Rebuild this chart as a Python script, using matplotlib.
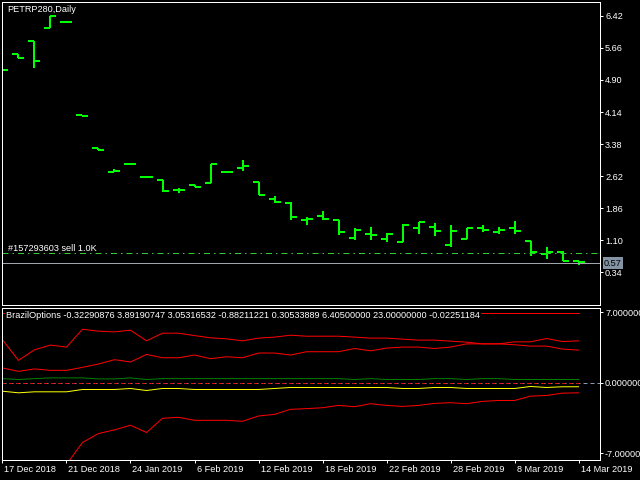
import matplotlib
matplotlib.use('Agg')
import matplotlib.pyplot as plt
import matplotlib.transforms as mtransforms
import numpy as np

# ---------------- data ----------------
symbol_title = 'PETRP280,Daily'
date_labels = ['17 Dec 2018', '21 Dec 2018', '24 Jan 2019', '6 Feb 2019', '12 Feb 2019',
               '18 Feb 2019', '22 Feb 2019', '28 Feb 2019', '8 Mar 2019', '14 Mar 2019']
date_label_bars = [0, 4, 8, 12, 16, 20, 24, 28, 32, 36]

opens  = [5.13, 5.51, 5.82, 6.14, 6.27, 4.08, 3.28, 2.72, 2.90, 2.61, 2.52, 2.30, 2.42, 2.45,
          2.71, 2.82, 2.47, 2.09, 1.98, 1.57, 1.68, 1.57, 1.15, 1.24, 1.13, 1.06, 1.39, 1.42,
          1.00, 1.14, 1.40, 1.30, 1.40, 1.09, 0.77, 0.82, 0.62]
highs  = [5.13, 5.51, 5.82, 6.41, 6.27, 4.08, 3.28, 2.79, 2.90, 2.61, 2.52, 2.34, 2.42, 2.91,
          2.71, 3.01, 2.48, 2.15, 2.00, 1.65, 1.80, 1.58, 1.39, 1.41, 1.27, 1.49, 1.53, 1.50,
          1.46, 1.39, 1.46, 1.41, 1.56, 1.09, 0.95, 0.84, 0.62]
lows   = [5.13, 5.43, 5.18, 6.14, 6.27, 4.05, 3.24, 2.72, 2.90, 2.61, 2.24, 2.23, 2.37, 2.45,
          2.71, 2.75, 2.17, 1.99, 1.59, 1.47, 1.57, 1.23, 1.11, 1.11, 1.07, 1.06, 1.24, 1.21,
          0.93, 1.14, 1.30, 1.24, 1.24, 0.74, 0.66, 0.60, 0.51]
closes = [5.13, 5.43, 5.36, 6.41, 6.27, 4.05, 3.24, 2.75, 2.90, 2.61, 2.27, 2.30, 2.37, 2.91,
          2.71, 2.87, 2.18, 2.01, 1.65, 1.61, 1.61, 1.30, 1.34, 1.23, 1.26, 1.46, 1.53, 1.33,
          1.33, 1.38, 1.35, 1.35, 1.33, 0.82, 0.83, 0.62, 0.58]

price_ticks = [6.42, 5.66, 4.90, 4.14, 3.38, 2.62, 1.86, 1.10, 0.34]
order_price = 0.79
order_text = '#157293603 sell 1.0K'
bid_price = 0.56
bid_label = '0.57'

# indicator buffers
line_a = [4.27, 2.23, 3.28, 3.75, 3.55, 5.32, 5.13, 5.06, 5.23, 4.17, 4.93, 4.93, 4.69, 4.47,
          4.37, 4.17, 4.44, 4.54, 4.73, 4.63, 4.63, 4.63, 4.54, 4.44, 4.44, 4.34, 4.24, 4.24,
          4.14, 4.04, 3.87, 3.87, 3.78, 3.65, 3.65, 3.35, 3.25]
line_b = [1.48, 1.14, 1.38, 1.24, 1.24, 1.54, 1.87, 2.30, 2.07, 2.82, 2.49, 2.49, 2.76, 2.40,
          2.59, 2.49, 2.96, 2.96, 2.76, 3.09, 3.09, 3.09, 3.41, 3.18, 3.45, 3.55, 3.55, 3.41,
          3.55, 3.87, 3.87, 3.87, 4.07, 4.07, 4.40, 4.10, 4.17]
line_c = [-10.5, -10.0, -9.4, -8.8, -8.1, -5.92, -5.03, -4.67, -4.21, -4.93, -3.52, -3.42,
          -3.72, -3.72, -3.72, -3.82, -3.29, -3.13, -2.63, -2.56, -2.47, -2.24, -2.37, -2.07,
          -2.24, -2.34, -2.24, -2.04, -1.97, -2.07, -1.84, -1.75, -1.75, -1.32, -1.25, -1.02, -0.99]
line_green = [0.42, 0.33, 0.42, 0.49, 0.49, 0.49, 0.39, 0.39, 0.49, 0.33, 0.42, 0.42, 0.42,
              0.42, 0.42, 0.42, 0.42, 0.42, 0.42, 0.42, 0.42, 0.42, 0.33, 0.42, 0.33, 0.33,
              0.33, 0.42, 0.42, 0.33, 0.42, 0.42, 0.33, 0.33, 0.33, 0.33, 0.33]
line_yellow = [-0.83, -0.99, -0.89, -0.89, -0.89, -0.66, -0.66, -0.66, -0.56, -0.76, -0.56,
               -0.56, -0.66, -0.66, -0.66, -0.66, -0.66, -0.56, -0.46, -0.46, -0.46, -0.46,
               -0.46, -0.46, -0.46, -0.56, -0.56, -0.46, -0.46, -0.56, -0.56, -0.56, -0.56,
               -0.36, -0.46, -0.39, -0.39]
line_top = [6.9] * 37
line_zero = [0.0] * 37
ind_ticks = [7.0, 0.0, -7.0]
ind_name = 'BrazilOptions'
ind_values = ['-0.32290876', '3.89190747', '3.05316532', '-0.88211221', '0.30533889',
              '6.40500000', '23.00000000', '-0.02251184']

# ---------------- drawing ----------------
W, H = 640, 480
PT = 72 / 100.0  # points per pixel
FONT = 'Liberation Sans'
FS = 6.6
plt.rcParams['font.family'] = [FONT, 'DejaVu Sans']

fig = plt.figure(figsize=(6.4, 4.8), dpi=100, facecolor='black')
ax1 = fig.add_axes([2 / W, 174.7 / H, 598 / W, 303 / H])
ax2 = fig.add_axes([2 / W, 20 / H, 598 / W, 152.3 / H])

x = np.arange(len(opens))
half = 0.375
green = '#00FF00'

for ax in (ax1, ax2):
    ax.set_facecolor('black')
    for s in ax.spines.values():
        s.set_color('white')
        s.set_linewidth(1 * PT)
    ax.set_xlim(-0.03, 37.34)
    ax.yaxis.tick_right()
    ax.tick_params(axis='y', colors='white', length=3 * PT, width=1 * PT,
                   pad=1.5, labelsize=FS, direction='out')

# main price panel
ax1.vlines(x, lows, highs, color=green, linewidth=2 * PT, capstyle='butt')
ax1.hlines(opens, x - half, x, color=green, linewidth=2 * PT)
ax1.hlines(closes, x, x + half, color=green, linewidth=2 * PT)
ax1.set_ylim(-0.44, 6.74)
ax1.set_yticks(price_ticks)
ax1.set_yticklabels(['%.2f' % v for v in price_ticks])
ax1.set_xticks([])

ax1.axhline(order_price, color='#33CC33', linewidth=1 * PT, dashes=(6, 4, 1.5, 4))
ax1.axhline(bid_price, color='#A0A4AC', linewidth=1 * PT)
ax1.text(6 / 598, order_price, order_text, color='white', fontsize=FS,
         transform=mtransforms.blended_transform_factory(ax1.transAxes, ax1.transData),
         va='bottom', ha='left')
ax1.text(1.0 + 4 / 598, bid_price, bid_label, color='black', fontsize=FS,
         transform=mtransforms.blended_transform_factory(ax1.transAxes, ax1.transData),
         va='center', ha='left', zorder=10, clip_on=False,
         bbox=dict(boxstyle='square,pad=0.15', facecolor='#8494A4', edgecolor='none'))
ax1.text(5 / 598, 1 - 3 / 303, symbol_title, color='white', fontsize=FS,
         transform=ax1.transAxes, va='top', ha='left')

# indicator panel
ax2.set_ylim(-7.66, 7.46)
ax2.axhline(0, color='#8899AA', linewidth=1 * PT, dashes=(4, 3))
ax2.plot(x, line_zero, color='red', linewidth=1 * PT, dashes=(3, 4))
ax2.plot(x, line_top, color='red', linewidth=1 * PT)
ax2.plot(x, line_a, color='red', linewidth=1 * PT)
ax2.plot(x, line_b, color='red', linewidth=1 * PT)
ax2.plot(x, line_c, color='red', linewidth=1 * PT)
ax2.plot(x, line_green, color='#008000', linewidth=1 * PT)
ax2.plot(x, line_yellow, color='#FFFF00', linewidth=1 * PT)
ax2.set_yticks(ind_ticks)
ax2.set_yticklabels(['%.6f' % v for v in ind_ticks])
ax2.text(4 / 598, 1 - 3 / 152.3, ind_name + ' ' + ' '.join(ind_values), color='white',
         fontsize=FS, transform=ax2.transAxes, va='top', ha='left', zorder=10,
         bbox=dict(boxstyle='square,pad=0.1', facecolor='black', edgecolor='none'))

ax2.set_xticks(date_label_bars)
ax2.set_xticklabels(date_labels)
ax2.tick_params(axis='x', colors='white', length=3 * PT, width=1 * PT, pad=1.5,
                labelsize=FS, direction='out')
offset = mtransforms.ScaledTranslation(2 / 100, 0, fig.dpi_scale_trans)
for lbl in ax2.get_xticklabels():
    lbl.set_horizontalalignment('left')
    lbl.set_transform(lbl.get_transform() + offset)

fig.savefig('out.png', dpi=100, facecolor='black')
